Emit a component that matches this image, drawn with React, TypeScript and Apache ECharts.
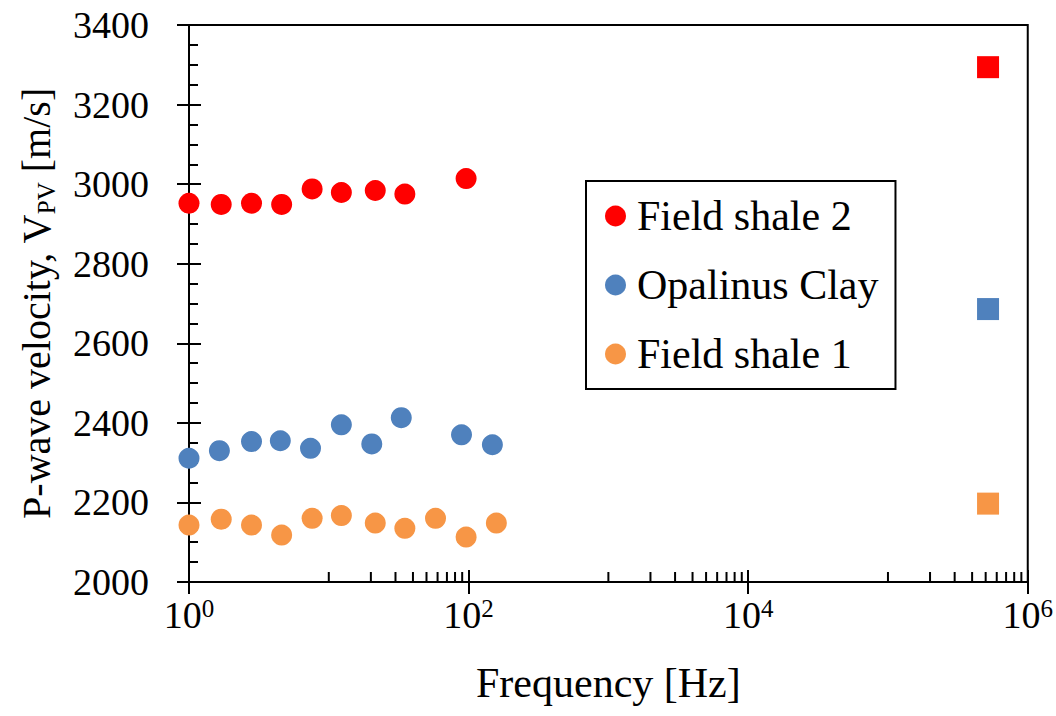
import React, { useEffect, useRef } from "react";
import * as echarts from "echarts";

const FONT = "Liberation Serif";

const seriesNames = ["Field shale 2", "Opalinus Clay", "Field shale 1"];
const seriesColors = ["#FF0000", "#4F81BD", "#F79646"];

const shale2Freq = [1, 1.7, 2.8, 4.6, 7.6, 12.3, 21.5, 35, 96];
const shale2Vel = [2952, 2949, 2952, 2949, 2988, 2979, 2984, 2975, 3014];

const opalinusFreq = [1, 1.65, 2.8, 4.5, 7.4, 12.3, 20.3, 33, 89, 148];
const opalinusVel = [2311, 2330, 2353, 2355, 2336, 2395, 2347, 2413, 2370, 2345];

const shale1Freq = [1, 1.7, 2.8, 4.6, 7.6, 12.3, 21.5, 35, 58, 96, 158];
const shale1Vel = [2143, 2158, 2143, 2118, 2160, 2167, 2148, 2135, 2160, 2113, 2148];

const ultrasonicFreq = 520000;
const ultrasonicVel = [3294, 2686, 2197];

const xMinorTicks = [10, 20, 30, 40, 50, 60, 70, 80, 90, 1000, 2000, 3000, 4000, 5000, 6000, 7000, 8000, 9000, 100000, 200000, 300000, 400000, 500000, 600000, 700000, 800000, 900000];

const zip = (xs: number[], ys: number[]) => xs.map((x, i) => [x, ys[i]]);

export default function App() {
  const ref = useRef<HTMLDivElement>(null);
  useEffect(() => {
    if (!ref.current) return;
    const chart = echarts.init(ref.current, undefined, { renderer: "svg" });
    const yCommon = {
      type: "value",
      min: 2000,
      max: 3400,
      position: "left",
      splitLine: { show: false },
    };
    const xCommon = {
      type: "log",
      logBase: 100,
      min: 1,
      max: 1000000,
      position: "bottom",
      splitLine: { show: false },
      minorSplitLine: { show: false },
    };
    const circleSeries = [
      zip(shale2Freq, shale2Vel),
      zip(opalinusFreq, opalinusVel),
      zip(shale1Freq, shale1Vel),
    ].map((d, i) => ({
      name: seriesNames[i],
      type: "scatter",
      symbol: "circle",
      symbolSize: 21,
      itemStyle: { color: seriesColors[i], opacity: 1 },
      data: d,
      z: 5,
    }));
    const squareSeries = ultrasonicVel.map((v, i) => ({
      name: seriesNames[i] + " (ultrasonic)",
      type: "scatter",
      symbol: "rect",
      symbolSize: 22,
      itemStyle: { color: seriesColors[i], opacity: 1 },
      data: [[ultrasonicFreq, v]],
      z: 5,
    }));
    chart.setOption({
      animation: false,
      backgroundColor: "#fff",
      textStyle: { fontFamily: FONT, color: "#000" },
      grid: {
        left: 189,
        top: 25,
        width: 846,
        height: 557,
        show: true,
        borderColor: "#000",
        borderWidth: 2,
        containLabel: false,
      },
      legend: {
        data: seriesNames.map((n) => ({ name: n, icon: "circle" })),
        orient: "vertical",
        left: 586,
        top: 181,
        itemWidth: 21,
        itemHeight: 21,
        itemGap: 27,
        padding: [14, 17, 14, 19],
        borderColor: "#000",
        borderWidth: 2,
        backgroundColor: "#fff",
        textStyle: { fontFamily: FONT, fontSize: 42, color: "#000", padding: [0, 0, 0, 6] },
      },
      xAxis: [
        {
          ...xCommon,
          name: "Frequency [Hz]",
          nameLocation: "middle",
          nameGap: 80,
          nameTextStyle: { fontFamily: FONT, fontSize: 42, color: "#000" },
          axisLine: { show: true, lineStyle: { color: "#000", width: 2 } },
          axisTick: { show: true, inside: false, length: 12, lineStyle: { color: "#000", width: 2 } },
          minorTick: { show: false },
          axisLabel: {
            margin: 14,
            fontFamily: FONT,
            fontSize: 38,
            color: "#000",
            formatter: (v: number) => "10{sup|" + Math.round(Math.log10(v)) + "}",
            rich: {
              sup: { fontFamily: FONT, fontSize: 25, color: "#000", verticalAlign: "top", lineHeight: 36 },
            },
          },
        },
        {
          ...xCommon,
          axisLine: { show: false },
          axisTick: { show: true, inside: true, length: 12, lineStyle: { color: "#000", width: 2 } },
          minorTick: { show: false },
          axisLabel: { show: false },
        },
      ],
      yAxis: [
        {
          ...yCommon,
          interval: 200,
          name: "P-wave velocity, V{sub|PV} [m/s]",
          nameLocation: "middle",
          nameGap: 130,
          nameRotate: 90,
          nameTextStyle: {
            fontFamily: FONT,
            fontSize: 40,
            color: "#000",
            rich: {
              sub: { fontFamily: FONT, fontSize: 25, color: "#000", verticalAlign: "bottom", lineHeight: 46 },
            },
          },
          axisLine: { show: true, lineStyle: { color: "#000", width: 2 } },
          axisTick: { show: true, inside: false, length: 12, lineStyle: { color: "#000", width: 2 } },
          axisLabel: {
            margin: 40,
            fontFamily: FONT,
            fontSize: 38,
            color: "#000",
            formatter: (v: number) => String(v),
          },
        },
        {
          ...yCommon,
          interval: 200,
          axisLine: { show: false },
          axisTick: { show: true, inside: true, length: 12, lineStyle: { color: "#000", width: 2 } },
          axisLabel: { show: false },
        },
        {
          ...yCommon,
          interval: 50,
          axisLine: { show: false },
          axisTick: { show: true, inside: true, length: 9, lineStyle: { color: "#000", width: 2 } },
          axisLabel: { show: false },
        },
      ],
      series: [
        ...circleSeries,
        ...squareSeries,
        {
          name: "x minor ticks",
          type: "custom",
          silent: true,
          clip: false,
          z: 3,
          data: xMinorTicks.map((t) => [t, 2000]),
          renderItem: (params: any, api: any) => {
            const p = api.coord([api.value(0), api.value(1)]);
            return {
              type: "line",
              shape: { x1: p[0], y1: p[1], x2: p[0], y2: p[1] - 10 },
              style: { stroke: "#000", lineWidth: 2 },
            };
          },
        },
      ],
    });
    return () => chart.dispose();
  }, []);
  return (
    <div
      ref={ref}
      style={{ position: "fixed", left: 0, top: 0, width: 1056, height: 716, background: "#fff" }}
    />
  );
}
